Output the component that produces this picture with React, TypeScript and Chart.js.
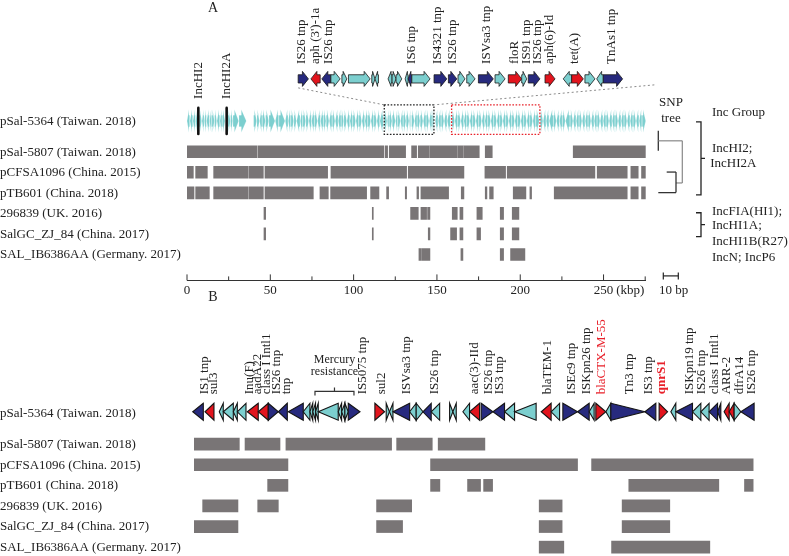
import React, { useEffect, useRef } from "react";
import { Chart, registerables } from "chart.js";

Chart.register(...registerables);

const SERIF = '"Liberation Serif", "Times New Roman", serif';
const TEAL = "#7ccfcf";
const NAVY = "#272a7e";
const RED = "#e2141d";
const BAR = "#797576";
const INK = "#222222";
const GENE_COLORS: Record<string, string> = { n: NAVY, r: RED, t: TEAL };

// ---------- rows (shared by both panels) ----------
const rowLabels = [
  "pSal-5364 (Taiwan. 2018)",
  "pSal-5807 (Taiwan. 2018)",
  "pCFSA1096 (China. 2015)",
  "pTB601 (China. 2018)",
  "296839 (UK. 2016)",
  "SalGC_ZJ_84 (China. 2017)",
  "SAL_IB6386AA (Germany. 2017)",
];
const rowPos = [0, 1.5, 2.5, 3.5, 4.5, 5.5, 6.5];

// ---------- Panel A (kbp) ----------
const plasmidLengthKbp = 275.3;
const tickValuesKbp = [0, 25, 50, 75, 100, 125, 150, 175, 200, 225, 250, 275];
const labelledTicksKbp = [0, 50, 100, 150, 200, 250];

const aPSal5807: [number, number][] = [[0, 42], [42.6, 118.2], [119, 120.4], [121.4, 131.2], [134.8, 137.8], [138.8, 145.4], [145.8, 162.2], [162.6, 165.8], [166.2, 175.4], [179, 183.2], [231.8, 275.3]];
const aPCFSA1096: [number, number][] = [[0, 3.8], [5.2, 12.2], [16, 36.8], [37.4, 45.8], [46.8, 84.4], [86.4, 131.8], [132.8, 166.2], [178.8, 191.2], [192.2, 244.8], [246.2, 264.2], [266.4, 270.8], [272.8, 275.3]];
const aPTB601: [number, number][] = [[0, 4.2], [5.2, 13.4], [16, 36.8], [37.4, 45.8], [46.8, 75.8], [79.8, 84.8], [86.2, 107.8], [110.2, 115.2], [119.8, 121], [131, 131.8], [138, 139], [140.4, 157], [164.6, 166.2], [179, 180], [181.6, 183.8], [195.8, 203.4], [205.8, 206.8], [220.4, 264.2], [266.4, 270.8], [272.8, 275.3]];
const a296839: [number, number][] = [[46.2, 47.2], [111.2, 111.8], [134.2, 138.8], [140.4, 143.8], [144.4, 145.8], [159.2, 162.2], [163.8, 165.6], [174, 177.2], [188, 190], [195.2, 199.2]];
const aSalGC: [number, number][] = [[46.2, 47.2], [111.2, 111.8], [144.8, 145.8], [158.2, 161.8], [163.8, 165.6], [174, 176.2], [188, 190], [195.2, 199.2]];
const aSALIB: [number, number][] = [[139.2, 140.4], [140.8, 145.8], [164.4, 165.6], [188, 190], [194.2, 202.8]];
const aSegments = [aPSal5807, aPCFSA1096, aPTB601, a296839, aSalGC, aSALIB];

// backbone genes of pSal-5364: [start, end, direction]
const backboneA: [number, number, number][] = [
  [0, 1.6, -1], [1.8, 3.4, -1], [3.6, 5.0, -1], [5.2, 6.4, -1], [7.4, 8.8, 1], [9.0, 10.2, -1], [10.4, 11.6, -1], [11.8, 13.4, -1],
  [13.6, 14.8, -1], [15.0, 16.4, 1], [16.6, 17.8, 1], [18.0, 19.6, -1], [19.8, 21.0, -1], [21.2, 22.8, 1], [24.6, 26.0, 1], [26.2, 27.4, 1],
  [27.6, 31.0, 1], [31.2, 35.6, 1], [40.0, 41.8, 1], [42.0, 43.4, 1], [43.6, 45.0, -1], [45.2, 47.0, 1], [47.2, 49.0, 1], [49.2, 52.8, 1],
  [53.0, 55.0, -1], [55.2, 58.8, 1], [59.0, 60.6, -1], [60.8, 62.2, -1], [62.4, 64.0, 1], [64.2, 65.6, 1], [65.8, 67.8, -1], [68.0, 69.4, -1],
  [69.6, 71.2, 1], [71.4, 73.0, 1], [73.2, 74.6, -1], [74.8, 76.4, -1], [76.6, 78.2, 1], [78.4, 80.0, -1], [80.2, 81.8, -1], [82.0, 83.4, 1],
  [83.6, 85.2, 1], [85.4, 87.0, -1], [87.2, 88.8, 1], [89.0, 90.6, -1], [90.8, 92.4, -1], [92.6, 94.0, 1], [94.2, 95.8, 1], [96.0, 97.6, -1],
  [97.8, 99.4, -1], [99.6, 101.2, 1], [101.4, 103.0, -1], [103.2, 104.8, 1], [105.0, 106.6, -1], [106.8, 108.4, -1], [108.6, 110.2, 1], [110.4, 112.0, -1],
  [112.2, 113.8, 1], [114.0, 115.6, -1], [115.8, 117.8, -1], [118.5, 120.0, 1], [120.2, 121.2, -1], [121.4, 123.0, 1], [123.2, 125.0, 1], [125.2, 126.4, -1],
  [126.6, 128.0, 1], [128.2, 129.6, -1], [129.8, 131.4, 1], [131.6, 133.2, 1], [133.4, 134.2, -1], [134.8, 136.4, 1], [136.6, 138.0, -1], [138.2, 139.8, 1],
  [140.0, 141.6, 1], [141.8, 143.4, -1], [143.6, 145.2, 1], [145.4, 147.0, -1], [147.2, 148.2, 1], [149.0, 150.6, -1], [150.8, 152.4, -1], [152.6, 154.2, 1],
  [154.4, 156.0, -1], [156.2, 158.0, -1], [159.0, 160.6, 1], [160.8, 162.4, -1], [162.6, 164.2, 1], [164.4, 166.0, -1], [166.2, 167.8, -1], [168.0, 169.6, 1],
  [169.8, 171.4, -1], [171.6, 173.2, 1], [173.4, 175.0, -1], [175.2, 176.8, 1], [177.0, 178.6, -1], [178.8, 180.4, -1], [180.6, 182.2, 1], [182.4, 184.0, -1],
  [184.2, 185.8, 1], [186.0, 187.6, -1], [187.8, 189.4, 1], [189.6, 191.2, -1], [191.4, 193.0, 1], [193.2, 194.8, -1], [195.0, 196.6, 1], [196.8, 198.4, -1],
  [198.6, 200.2, 1], [200.4, 202.0, -1], [202.2, 203.8, 1], [204.0, 205.6, -1], [205.8, 207.4, 1], [207.6, 209.2, -1], [209.4, 211.4, 1], [212.0, 213.6, 1],
  [213.8, 215.4, -1], [215.6, 217.2, -1], [217.4, 219.8, -1], [220.0, 221.6, 1], [221.8, 223.4, -1], [223.6, 225.2, -1], [225.4, 227.0, 1], [227.2, 229.8, -1],
  [230.0, 231.6, 1], [231.8, 233.4, -1], [233.6, 235.2, -1], [235.4, 237.0, 1], [237.2, 238.8, -1], [239.0, 240.6, -1], [240.8, 242.4, 1], [242.6, 244.2, -1],
  [244.4, 246.0, -1], [246.2, 247.8, 1], [248.0, 249.6, -1], [249.8, 251.4, -1], [251.6, 253.2, 1], [253.4, 255.0, -1], [255.2, 256.8, -1], [257.0, 258.6, 1],
  [258.8, 260.4, -1], [260.6, 262.2, -1], [262.4, 264.0, 1], [264.2, 265.8, -1], [266.0, 267.6, -1], [267.8, 269.4, 1], [269.6, 271.2, -1], [271.4, 273.0, -1],
  [273.2, 275.3, 1],
];
const incMarksLabels = ["IncHI2", "IncHI2A"];
const incMarksKbp = [6.8, 23.8];

const blackBoxKbp: [number, number] = [118.4, 148.2];
const redBoxKbp: [number, number] = [158.8, 211.8];

// zoomed region (kbp), drawn on its own stretched axis
const zoomViewKbp: [number, number] = [108.0, 150.5];
const zoomLinkKbp: [number, number] = [118.3, 151.3];
const zoomGenes: [number, number, number, string][] = [
  [118.3, 119.25, 1, "n"], [119.48, 120.34, -1, "r"], [120.49, 121.33, -1, "n"], [121.33, 122.19, 1, "t"], [122.35, 122.81, 1, "t"],
  [122.96, 124.97, 1, "t"], [125.12, 125.42, 1, "t"], [125.42, 125.74, -1, "t"], [126.63, 127.0, -1, "t"], [127.0, 127.37, 1, "t"],
  [127.37, 127.9, 1, "t"], [128.21, 128.49, -1, "t"], [128.49, 128.83, -1, "n"], [128.83, 130.52, 1, "t"], [130.89, 132.07, 1, "n"],
  [132.22, 133.0, 1, "n"], [133.11, 133.76, 1, "t"], [133.92, 134.69, 1, "t"], [135.0, 136.38, 1, "n"], [136.54, 137.47, 1, "t"],
  [137.77, 139.01, 1, "r"], [139.01, 139.48, 1, "t"], [139.62, 140.7, 1, "n"], [141.17, 142.1, 1, "r"], [142.86, 143.64, -1, "t"],
  [143.64, 144.72, 1, "r"], [144.87, 145.8, 1, "t"], [145.96, 146.57, -1, "t"], [146.57, 148.36, 1, "n"],
];
const zoomLabelText = ["IS26 tnp", "aph (3')-1a", "IS26 tnp", "IS6 tnp", "IS4321 tnp", "IS26 tnp", "ISVsa3 tnp", "floR", "IS91 tnp", "IS26 tnp", "aph(6)-Id", "tet(A)", "TnAs1 tnp"];
const zoomLabelKbp = [118.64, 119.87, 121.08, 128.83, 131.26, 132.65, 135.77, 138.39, 139.48, 140.52, 141.63, 143.94, 147.35];

const incGroups = [["IncHI2;", "IncHI2A"], ["IncFIA(HI1);", "IncHI1A;", "IncHI1B(R27)", "IncN; IncP6"]];

// ---------- Panel B (kb within the resistance region) ----------
const regionLengthKb = 53;
const bPSal5807: [number, number][] = [[0, 4.29], [4.83, 8.14], [8.7, 18.7], [19.18, 22.55], [23.11, 27.53]];
const bPCFSA1096: [number, number][] = [[0, 8.89], [22.39, 36.3], [37.63, 52.92]];
const bPTB601: [number, number][] = [[6.97, 8.89], [22.39, 23.27], [25.89, 27.12], [27.41, 28.26], [41.15, 49.67], [52.1, 52.92]];
const b296839: [number, number][] = [[0.82, 4.16], [6.03, 7.98], [17.28, 20.6], [32.67, 34.84], [40.52, 45.03]];
const bSalGC: [number, number][] = [[0, 4.16], [17.28, 19.74], [32.67, 34.84], [40.52, 45.03]];
const bSALIB: [number, number][] = [[32.67, 35.0], [39.52, 48.82]];
const bSegments = [bPSal5807, bPCFSA1096, bPTB601, b296839, bSalGC, bSALIB];

const genesB: [number, number, number, string][] = [
  [-0.12, 0.88, -1, "n"], [1.04, 1.89, -1, "r"], [2.39, 2.77, -1, "t"], [2.77, 3.72, -1, "t"], [3.72, 4.1, -1, "t"], [4.1, 4.92, -1, "t"],
  [5.04, 6.08, -1, "r"], [6.08, 7.03, -1, "r"], [7.03, 7.98, 1, "n"], [7.98, 8.83, -1, "n"], [8.92, 10.34, -1, "n"], [10.34, 10.97, -1, "t"],
  [10.97, 11.24, -1, "t"], [11.24, 11.5, -1, "t"], [11.5, 11.76, -1, "t"], [11.76, 13.65, -1, "t"], [13.65, 13.97, -1, "t"], [13.97, 14.28, -1, "t"],
  [14.28, 14.6, 1, "t"], [14.6, 15.71, 1, "n"], [17.12, 18.04, 1, "r"], [18.19, 18.5, 1, "t"], [18.5, 18.83, -1, "t"], [18.83, 20.41, -1, "n"],
  [20.41, 21.03, -1, "t"], [21.03, 21.67, 1, "t"], [21.67, 22.45, -1, "n"], [22.45, 23.25, -1, "t"], [24.19, 24.5, 1, "t"], [24.5, 24.82, -1, "t"],
  [25.45, 26.08, -1, "t"], [26.08, 27.03, -1, "r"], [27.18, 28.29, 1, "n"], [28.29, 29.39, -1, "n"], [29.39, 30.34, -1, "t"], [30.34, 32.38, -1, "t"],
  [32.86, 33.8, -1, "r"], [33.8, 34.6, -1, "t"], [34.91, 36.3, 1, "n"], [36.3, 37.4, -1, "n"], [37.4, 37.87, -1, "t"], [38.03, 38.98, 1, "r"],
  [38.98, 39.45, -1, "t"], [39.45, 42.67, 1, "n"], [42.67, 43.71, -1, "n"], [44.02, 44.82, 1, "r"], [45.13, 45.6, -1, "t"], [45.6, 47.18, -1, "n"],
  [47.18, 47.97, -1, "t"], [47.97, 48.75, -1, "t"], [48.75, 49.55, -1, "n"], [49.55, 49.86, -1, "n"], [50.17, 50.65, -1, "r"], [50.65, 51.12, -1, "r"],
  [51.12, 51.75, 1, "t"], [51.75, 53.01, -1, "n"],
];
const labelsBText = ["IS1 tnp", "sul3", "Inu(F)", "aadA22", "class I Intl1", "IS26 tnp", "tnp", "IS5075 tnp", "sul2", "ISVsa3 tnp", "IS26 tnp", "aac(3)-IId", "IS26 tnp", "IS3 tnp", "blaTEM-1", "ISEc9 tnp", "ISKpn26 tnp", "blaCTX-M-55", "Tn3 tnp", "IS3 tnp", "qnrS1", "ISKpn19 tnp", "IS26 tnp", "class I Intl1", "ARR-2", "dfrA14", "IS26 tnp"];
const labelsBKb = [1.04, 1.89, 5.3, 5.99, 6.88, 7.82, 8.77, 15.92, 17.76, 20.12, 22.8, 26.58, 27.84, 28.95, 33.43, 35.73, 37.15, 38.57, 41.25, 42.98, 44.25, 46.93, 48.03, 49.29, 50.4, 51.66, 52.76];
const labelsBStyle = ["", "", "", "", "", "", "", "", "", "", "", "", "", "", "", "", "", "red", "", "", "redBold", "", "", "", "", "", ""];
const mercuryKb: [number, number] = [11.45, 15.14];

// ---------- drawing helpers ----------
type Ctx = CanvasRenderingContext2D;

function poly(ctx: Ctx, pts: number[][], fill: string, stroke: string | null, lw: number) {
  ctx.beginPath();
  ctx.moveTo(pts[0][0], pts[0][1]);
  for (let i = 1; i < pts.length; i++) ctx.lineTo(pts[i][0], pts[i][1]);
  ctx.closePath();
  ctx.fillStyle = fill;
  ctx.fill();
  if (stroke) {
    ctx.strokeStyle = stroke;
    ctx.lineWidth = lw;
    ctx.lineJoin = "miter";
    ctx.stroke();
  }
}

function geneArrow(ctx: Ctx, x0: number, x1: number, yc: number, h: number, dir: number, bodyFrac: number, headMax: number, fill: string, stroke: string | null, lw: number) {
  const w = Math.max(x1 - x0, 0.6);
  const head = Math.min(headMax, w * 0.75);
  const bh = (h * bodyFrac) / 2;
  const hh = h / 2;
  let pts: number[][];
  if (dir > 0) {
    const hx = x0 + w - head;
    pts = [[x0, yc - bh], [hx, yc - bh], [hx, yc - hh], [x0 + w, yc], [hx, yc + hh], [hx, yc + bh], [x0, yc + bh]];
  } else {
    const hx = x0 + head;
    pts = [[x0 + w, yc - bh], [hx, yc - bh], [hx, yc - hh], [x0, yc], [hx, yc + hh], [hx, yc + bh], [x0 + w, yc + bh]];
  }
  poly(ctx, pts, fill, stroke, lw);
}

function triangle(ctx: Ctx, x0: number, x1: number, yc: number, h: number, dir: number, fill: string) {
  const pts = dir > 0 ? [[x0, yc - h / 2], [x1, yc], [x0, yc + h / 2]] : [[x1, yc - h / 2], [x0, yc], [x1, yc + h / 2]];
  poly(ctx, pts, fill, "#151515", 1.1);
}

function vtext(ctx: Ctx, text: string, x: number, yBottom: number, color: string, font: string) {
  ctx.save();
  ctx.translate(x, yBottom);
  ctx.rotate(-Math.PI / 2);
  ctx.textAlign = "left";
  ctx.textBaseline = "middle";
  ctx.fillStyle = color;
  ctx.font = font;
  ctx.fillText(text, 0, 0);
  ctx.restore();
}

function line(ctx: Ctx, x0: number, y0: number, x1: number, y1: number, color: string, lw: number, dash: number[] = []) {
  ctx.save();
  ctx.beginPath();
  ctx.setLineDash(dash);
  ctx.strokeStyle = color;
  ctx.lineWidth = lw;
  ctx.moveTo(x0, y0);
  ctx.lineTo(x1, y1);
  ctx.stroke();
  ctx.restore();
}

function text(ctx: Ctx, s: string, x: number, y: number, align: CanvasTextAlign, font: string, color = INK) {
  ctx.save();
  ctx.font = font;
  ctx.fillStyle = color;
  ctx.textAlign = align;
  ctx.textBaseline = "middle";
  ctx.fillText(s, x, y);
  ctx.restore();
}

const F13 = `13px ${SERIF}`;
const F12 = `12px ${SERIF}`;

const panelAPlugin = {
  id: "panelA",
  afterDatasetsDraw(chart: any) {
    const ctx: Ctx = chart.ctx;
    const xs = chart.scales.x;
    const xz = chart.scales.xz;
    const ys = chart.scales.y;
    const area = chart.chartArea;
    const X = (v: number) => xs.getPixelForValue(v);
    const Z = (v: number) => xz.getPixelForValue(v);
    const Y = (v: number) => ys.getPixelForValue(v);
    const trackY = Y(rowPos[0]);

    // row labels
    rowLabels.forEach((l, i) => text(ctx, l, 0, Y(rowPos[i]) + 0.5, "left", F13));

    // backbone
    backboneA.forEach(([s, e, d]) => geneArrow(ctx, X(s), X(e), trackY, 23, d, 0.5, 5, TEAL, "rgba(255,255,255,0.55)", 0.4));

    // Inc marks
    incMarksKbp.forEach((p, i) => {
      ctx.save();
      ctx.lineCap = "round";
      line(ctx, X(p), trackY - 13, X(p), trackY + 13, "#111", 2.6);
      ctx.restore();
      vtext(ctx, incMarksLabels[i], X(p), trackY - 22, INK, F13);
    });

    // dotted boxes
    const boxTop = trackY - 16;
    const boxBot = trackY + 13.5;
    const drawBox = (b: [number, number], color: string) => {
      ctx.save();
      ctx.setLineDash([1.6, 1.6]);
      ctx.strokeStyle = color;
      ctx.lineWidth = 1.3;
      ctx.strokeRect(X(b[0]), boxTop, X(b[1]) - X(b[0]), boxBot - boxTop);
      ctx.restore();
    };
    drawBox(blackBoxKbp, "#222");
    drawBox(redBoxKbp, "#e8232b");

    // zoomed region
    const zY = trackY - 42;
    line(ctx, Z(zoomLinkKbp[0]), zY + 9, X(blackBoxKbp[0]), boxTop, "#8a8a8a", 1, [2, 2.5]);
    line(ctx, Z(zoomLinkKbp[1]), zY + 6, X(blackBoxKbp[1]), boxTop, "#8a8a8a", 1, [2, 2.5]);
    zoomGenes.forEach(([s, e, d, c]) => geneArrow(ctx, Z(s), Z(e), zY, 15, d, 0.55, 6, GENE_COLORS[c], "#1b1b1b", 0.8));
    zoomLabelText.forEach((t, i) => vtext(ctx, t, Z(zoomLabelKbp[i]), zY - 15, INK, F13));

    // axis tick marks (inward)
    xs.ticks.forEach((t: any) => {
      const major = labelledTicksKbp.includes(t.value);
      const px = X(t.value);
      line(ctx, px, area.bottom, px, area.bottom - (major ? 6 : 4), "#333", 1);
    });
    ctx.save();
    ctx.font = F13;
    const w250 = ctx.measureText("250").width;
    ctx.restore();
    text(ctx, "(kbp)", X(250) + w250 / 2 + 3, area.bottom + 10, "left", F13);

    // panel letters
    text(ctx, "A", 213, 8, "center", `14px ${SERIF}`);
    text(ctx, "B", 213, 297, "center", `14px ${SERIF}`);

    // SNP tree
    const R = area.right;
    text(ctx, "SNP", R + 25.3, Y(rowPos[0]) - 18, "center", F13);
    text(ctx, "tree", R + 25.3, Y(rowPos[0]) - 2, "center", F13);
    const tTop = Y(0.48), t1 = Y(1.45), tMid1 = Y(0.97), c2a = Y(2.49), c2b = Y(3.49), tMid2 = Y(3.02);
    line(ctx, R + 12.6, tTop, R + 12.6, t1, "#333", 1.3);
    line(ctx, R + 12.6, tMid1, R + 36.6, tMid1, "#888", 1.2);
    line(ctx, R + 36.6, tMid1, R + 36.6, tMid2, "#888", 1.2);
    line(ctx, R + 30.3, tMid2, R + 36.6, tMid2, "#888", 1.2);
    line(ctx, R + 30.3, c2a, R + 30.3, c2b, "#333", 1.3);
    line(ctx, R + 21, c2a, R + 30.3, c2a, "#333", 1.3);
    line(ctx, R + 12.6, c2b, R + 30.3, c2b, "#333", 1.3);

    // Inc group brackets
    text(ctx, "Inc Group", R + 66.3, Y(rowPos[0]) - 8.5, "left", F13);
    const bracket = (y0: number, y1: number) => {
      const bx = R + 55.3;
      ctx.save();
      ctx.beginPath();
      ctx.strokeStyle = "#222";
      ctx.lineWidth = 1.3;
      ctx.moveTo(bx - 5, y0);
      ctx.lineTo(bx, y0);
      ctx.lineTo(bx, y1);
      ctx.lineTo(bx - 5, y1);
      ctx.moveTo(bx, (y0 + y1) / 2);
      ctx.lineTo(bx + 4, (y0 + y1) / 2);
      ctx.stroke();
      ctx.restore();
    };
    bracket(Y(0.05), Y(3.6));
    bracket(Y(4.47), Y(5.63));
    text(ctx, incGroups[0][0], R + 66.3, Y(1.37), "left", F13);
    text(ctx, incGroups[0][1], R + 64.5, Y(2.1), "left", F13);
    const g2y = [4.4, 5.08, 5.88, 6.65];
    incGroups[1].forEach((s, i) => text(ctx, s, R + 66.3, Y(g2y[i]), "left", F13));

    // 10 bp scale bar
    const sbY = area.bottom - 4.5;
    line(ctx, R + 17.6, sbY, R + 32.6, sbY, "#222", 1.2);
    line(ctx, R + 17.6, sbY - 3.5, R + 17.6, sbY + 3.5, "#222", 1.2);
    line(ctx, R + 32.6, sbY - 3.5, R + 32.6, sbY + 3.5, "#222", 1.2);
    text(ctx, "10 bp", R + 27.8, area.bottom + 10, "center", F13);
  },
};

const panelBPlugin = {
  id: "panelB",
  afterDatasetsDraw(chart: any) {
    const ctx: Ctx = chart.ctx;
    const xs = chart.scales.x;
    const ys = chart.scales.y;
    const X = (v: number) => xs.getPixelForValue(v);
    const Y = (v: number) => ys.getPixelForValue(v);
    const trackY = Y(rowPos[0]) - 1.5;

    rowLabels.forEach((l, i) => text(ctx, l, 0, Y(rowPos[i]) + 0.5, "left", F13));

    genesB.forEach(([s, e, d, c]) => triangle(ctx, X(s), X(e), trackY, 17, d, GENE_COLORS[c]));

    labelsBText.forEach((t, i) => {
      const st = labelsBStyle[i];
      const font = st === "redBold" ? `bold 13px ${SERIF}` : F13;
      vtext(ctx, t, X(labelsBKb[i]), trackY - 17.5, st ? "#e8202a" : INK, font);
    });

    // Mercury resistance bracket
    const mx0 = X(mercuryKb[0]), mx1 = X(mercuryKb[1]);
    const by = trackY - 20.3;
    ctx.save();
    ctx.beginPath();
    ctx.strokeStyle = "#333";
    ctx.lineWidth = 1.2;
    ctx.moveTo(mx0, by + 4);
    ctx.lineTo(mx0, by);
    ctx.lineTo(mx1, by);
    ctx.lineTo(mx1, by + 4);
    ctx.moveTo((mx0 + mx1) / 2, by);
    ctx.lineTo((mx0 + mx1) / 2, by - 4);
    ctx.stroke();
    ctx.restore();
    text(ctx, "Mercury", (mx0 + mx1) / 2, trackY - 52.3, "center", F12);
    text(ctx, "resistance", (mx0 + mx1) / 2, trackY - 39.6, "center", F12);
  },
};

function toBars(segs: [number, number][][]) {
  return segs.flatMap((row, i) => row.map((s) => ({ x: [s[0], s[1]], y: rowPos[i + 1] })));
}

export default function App() {
  const refA = useRef<HTMLCanvasElement>(null);
  const refB = useRef<HTMLCanvasElement>(null);

  useEffect(() => {
    const chartA = new Chart(refA.current as HTMLCanvasElement, {
      type: "bar",
      data: { datasets: [{ data: toBars(aSegments) as any, backgroundColor: BAR, borderWidth: 0, barThickness: 12 }] },
      options: {
        animation: false,
        responsive: false,
        indexAxis: "y",
        layout: { padding: { left: 187, right: 143.3, top: 0, bottom: 5 } },
        plugins: { legend: { display: false }, tooltip: { enabled: false } },
        scales: {
          x: {
            type: "linear",
            min: 0,
            max: plasmidLengthKbp,
            grid: { display: false, drawTicks: false },
            border: { display: true, color: "#333", width: 1 },
            afterBuildTicks: (scale: any) => {
              scale.ticks = tickValuesKbp.map((v) => ({ value: v }));
            },
            ticks: {
              autoSkip: false,
              maxRotation: 0,
              padding: 2,
              color: INK,
              font: { family: SERIF, size: 13 },
              callback: (v: any) => (labelledTicksKbp.includes(Number(v)) ? String(v) : ""),
            },
          },
          xz: { type: "linear", axis: "x", position: "top", min: zoomViewKbp[0], max: zoomViewKbp[1], display: false, offset: false },
          y: { type: "linear", min: -5.88, max: 7.76, reverse: true, display: false, offset: false, grid: { offset: false } },
        } as any,
      },
      plugins: [panelAPlugin],
    });
    const chartB = new Chart(refB.current as HTMLCanvasElement, {
      type: "bar",
      data: { datasets: [{ data: toBars(bSegments) as any, backgroundColor: BAR, borderWidth: 0, barThickness: 12 }] },
      options: {
        animation: false,
        responsive: false,
        indexAxis: "y",
        layout: { padding: { left: 194, right: 35, top: 0, bottom: 0 } },
        plugins: { legend: { display: false }, tooltip: { enabled: false } },
        scales: {
          x: { type: "linear", min: 0, max: regionLengthKb, display: false },
          y: { type: "linear", min: -5.5, max: 6.93, reverse: true, display: false, offset: false, grid: { offset: false } },
        } as any,
      },
      plugins: [panelBPlugin],
    });
    return () => {
      chartA.destroy();
      chartB.destroy();
    };
  }, []);

  return (
    <div style={{ position: "fixed", left: 0, top: 0, width: 789, height: 556, background: "#fff", overflow: "hidden" }}>
      <canvas ref={refA} width={789} height={305} style={{ position: "absolute", left: 0, top: 0, width: 789, height: 305 }} />
      <canvas ref={refB} width={789} height={256} style={{ position: "absolute", left: 0, top: 300, width: 789, height: 256 }} />
    </div>
  );
}
